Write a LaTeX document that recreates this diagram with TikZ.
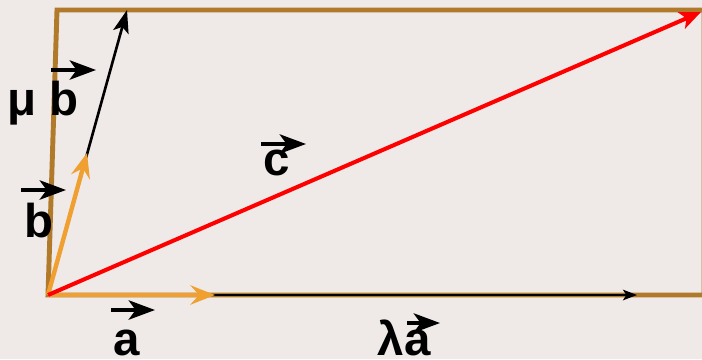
\documentclass[tikz,border=0pt]{standalone}
\usepackage{fontspec}
\setmainfont{Liberation Sans}
\usetikzlibrary{arrows.meta}

\begin{document}
\begin{tikzpicture}[
    vecLabel/.style={font=\fontsize{27}{30}\selectfont\bfseries, anchor=base, inner sep=0pt},
    overArrow/.style={line width=2.2pt, -{Stealth[length=15pt, width=11pt, inset=4pt]}}
  ]
    % Define colours
    \definecolor{bgColour}{HTML}{EFE9E7}
    \definecolor{frameColour}{HTML}{B07A2A}
    \definecolor{orangeColour}{HTML}{F0A030}
    \definecolor{redColour}{HTML}{FF0000}

    % Background and frame of the picture
    \useasboundingbox (0,0) rectangle (14.04,7.18);
    \fill[bgColour] (0,0) rectangle (14.04,7.18);
    \clip (0,0) rectangle (14.04,7.18);

    % Define coordinates
    \coordinate (O) at (0.96,1.28);
    \coordinate (A) at (4.30,1.28);
    \coordinate (LA) at (12.74,1.28);
    \coordinate (B) at (1.74,4.12);
    \coordinate (MB) at (2.54,6.98);
    \coordinate (C) at (14.02,6.94);
    \coordinate (TL) at (1.14,6.98);
    \coordinate (TR) at (14.08,6.98);
    \coordinate (BR) at (14.08,1.28);

    % Draw parallelogram
    \draw[frameColour, line width=2.8pt] (O) -- (TL) -- (TR) -- (BR) -- cycle;

    % Draw scaled vectors
    \draw[line width=1.4pt, -{Stealth[length=8pt, width=6pt, inset=2pt]}] (O) -- (LA);
    \draw[line width=1.5pt, -{Stealth[length=13pt, width=9pt, inset=3pt]}] (O) -- (MB);

    % Draw vectors a and b
    \draw[orangeColour, line width=2.5pt, -{Stealth[length=14pt, width=11pt, inset=5pt]}] (O) -- (A);
    \draw[orangeColour, line width=2.5pt, -{Stealth[length=14pt, width=11pt, inset=5pt]}] (O) -- (B);

    % Draw vector c
    \draw[redColour, line width=2.3pt, -{Stealth[length=12pt, width=10pt, inset=3pt]}] (O) -- (C);

    % Labels
    \node[vecLabel] (muB) at (0.86,4.88) {μ b};
    \node[vecLabel] (labB) at (0.78,2.44) {b};
    \node[vecLabel] (labA) at (2.54,0.08) {a};
    \node[vecLabel] (labC) at (5.54,3.68) {c};
    \node[vecLabel] (lamA) at (8.08,0.08) {λa};

    % Arrows over the labels
    \coordinate (muBL) at (1.02,5.78);
    \coordinate (muBR) at (1.92,5.78);
    \coordinate (labBL) at (0.42,3.38);
    \coordinate (labBR) at (1.32,3.38);
    \coordinate (labAL) at (2.22,0.98);
    \coordinate (labAR) at (3.10,0.98);
    \coordinate (labCL) at (5.22,4.30);
    \coordinate (labCR) at (6.12,4.30);
    \coordinate (lamAL) at (8.14,0.72);
    \coordinate (lamAR) at (8.80,0.72);
    \foreach \n in {muB,labB,labA,labC,lamA}
        \draw[overArrow] (\n L) -- (\n R);

\end{tikzpicture}
\end{document}
